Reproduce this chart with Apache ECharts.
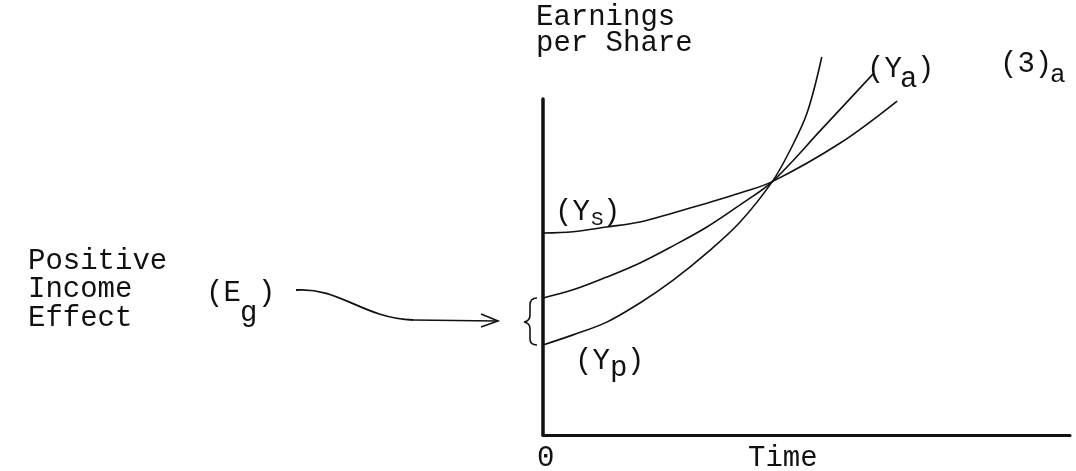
<!DOCTYPE html>
<html>
<head>
<meta charset="utf-8">
<script src="https://cdn.jsdelivr.net/npm/echarts@6/dist/echarts.min.js"></script>
<style>
html, body { margin: 0; padding: 0; background: #fff; }
#chart { width: 1076px; height: 471px; }
</style>
</head>
<body>
<div id="chart"></div>
<script>
// time axis runs 0..100, earnings axis 0..100 (curves go past the top)
var ysTime = [0, 5.7, 12.1, 18.4, 24.7, 31.1, 37.4, 43.5, 56.4, 67.2]
var ysEps = [60.1, 60.5, 61.9, 63.4, 66.1, 69.0, 72.0, 75.4, 86.9, 99.4]
var yaTime = [0, 5.7, 12.1, 18.4, 24.7, 31.1, 37.4, 43.5, 53.1, 62.6]
var yaEps = [40.8, 43.2, 47.0, 51.2, 56.3, 61.9, 68.5, 75.4, 91.4, 107.4]
var ypTime = [0, 5.7, 12.1, 18.4, 24.7, 31.1, 37.4, 43.5, 46.9, 50.1, 52.9]
var ypEps = [26.8, 29.8, 33.6, 39.3, 46.1, 54.2, 63.4, 75.4, 84.8, 95.8, 112.5]

var ink = '#111'
var mono = '"Liberation Mono", "DejaVu Sans Mono", monospace'

function pairs (xs, ys) {
  var out = []
  for (var i = 0; i < xs.length; i++) {
    out.push([xs[i], ys[i]])
  }
  return out
}

function curve (name, xs, ys) {
  return {
    name: name,
    type: 'line',
    data: pairs(xs, ys),
    smooth: 0.35,
    showSymbol: false,
    clip: false,
    silent: true,
    lineStyle: { color: ink, width: 1.6 }
  }
}

// plain text helper, y is the middle of the line
function txt (x, y, s, size) {
  return {
    type: 'text',
    x: x,
    y: y,
    silent: true,
    style: {
      text: s,
      font: (size || 29) + 'px ' + mono,
      fill: ink,
      textAlign: 'left',
      textVerticalAlign: 'middle'
    }
  }
}

function stroke (w) {
  return { fill: null, stroke: ink, lineWidth: w }
}

function bez (x1, y1, cx, cy, x2, y2, w) {
  return { type: 'bezierCurve', silent: true, shape: { x1: x1, y1: y1, cpx1: cx, cpy1: cy, x2: x2, y2: y2 }, style: stroke(w) }
}

function seg (x1, y1, x2, y2, w) {
  return { type: 'line', silent: true, shape: { x1: x1, y1: y1, x2: x2, y2: y2 }, style: stroke(w) }
}

var chart = echarts.init(document.getElementById('chart'))
var option = {
  animation: false,
  backgroundColor: '#fff',
  grid: { left: 543, top: 99, width: 527, height: 336 },
  xAxis: {
    type: 'value',
    min: 0,
    max: 100,
    axisLine: { show: true, lineStyle: { color: ink, width: 3 } },
    axisTick: { show: false },
    axisLabel: { show: false },
    splitLine: { show: false }
  },
  yAxis: {
    type: 'value',
    min: 0,
    max: 100,
    axisLine: { show: true, lineStyle: { color: ink, width: 3.5 } },
    axisTick: { show: false },
    axisLabel: { show: false },
    splitLine: { show: false }
  },
  series: [
    curve('Ys', ysTime, ysEps),
    curve('Ya', yaTime, yaEps),
    curve('Yp', ypTime, ypEps)
  ],
  graphic: [
    txt(536, 17, 'Earnings'),
    txt(536, 43, 'per Share'),
    txt(28, 261, 'Positive'),
    txt(28, 289, 'Income'),
    txt(28, 318, 'Effect'),
    txt(206, 293, '(E'),
    txt(240, 313, 'g'),
    txt(258, 293, ')'),
    txt(555, 212, '(Y'),
    txt(591, 219, 'S', 21),
    txt(603, 212, ')'),
    txt(575, 361, '(Y'),
    txt(610, 368, 'p'),
    txt(627, 361, ')'),
    txt(867, 69, '(Y'),
    txt(900, 79, 'a'),
    txt(917, 69, ')'),
    txt(1000, 64, '(3)'),
    txt(1050, 75, 'a', 26),
    txt(537, 458, '0'),
    txt(748, 458, 'Time'),
    // wavy pointer from (Eg) to the brace
    {
      type: 'bezierCurve',
      silent: true,
      shape: { x1: 296, y1: 290, cpx1: 340, cpy1: 287, cpx2: 362, cpy2: 318, x2: 413, y2: 320 },
      style: stroke(1.8)
    },
    seg(413, 320, 497, 321, 1.6),
    { type: 'polyline', silent: true, shape: { points: [[481, 314], [498, 321], [481, 327]] }, style: stroke(1.6) },
    // brace on the axis
    bez(537, 298, 530, 298, 530, 305, 1.6),
    seg(530, 305, 530, 315, 1.6),
    bez(530, 315, 530, 321, 524, 322, 1.6),
    bez(524, 322, 530, 323, 530, 329, 1.6),
    seg(530, 329, 530, 339, 1.6),
    bez(530, 339, 530, 345, 537, 345, 1.6)
  ]
}
chart.setOption(option)
</script>
</body>
</html>
